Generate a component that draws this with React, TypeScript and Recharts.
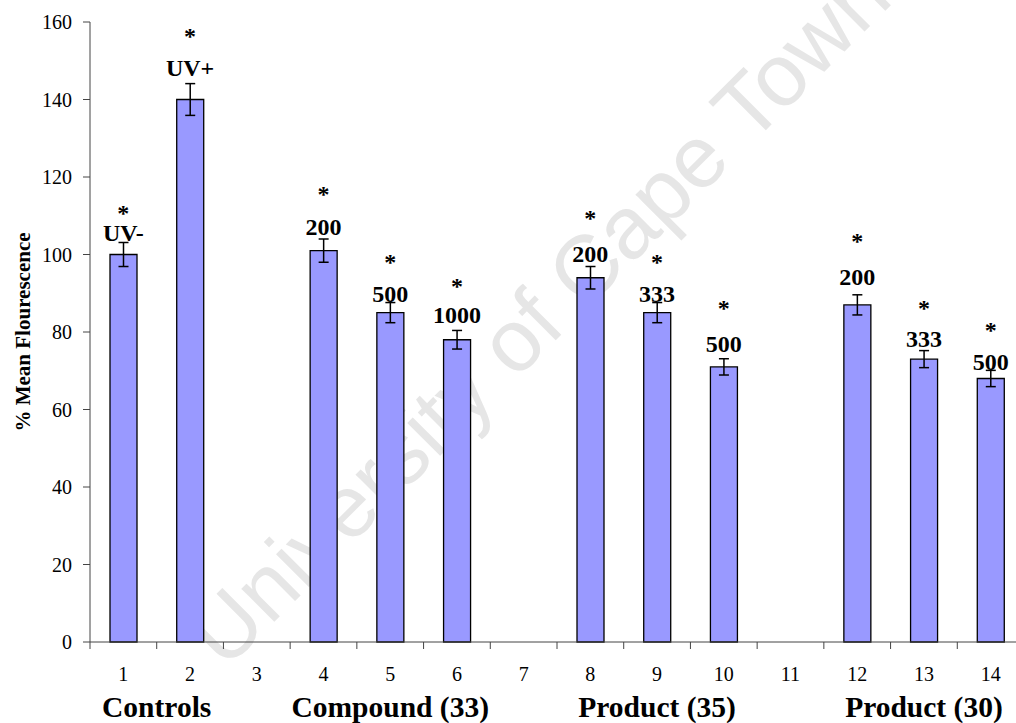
import { ComposedChart, Bar, ErrorBar, Scatter, XAxis, YAxis } from "recharts";

// sample numbers 1..14 on the x axis, mean fluorescence (% of control) per sample
const categories = ["1", "2", "3", "4", "5", "6", "7", "8", "9", "10", "11", "12", "13", "14"];
const meanFluor = [100, 140, null, 101, 85, 78, null, 94, 85, 71, null, 87, 73, 68];
const sem = [3.1, 4.1, null, 3, 2.6, 2.4, null, 2.9, 2.6, 2.1, null, 2.6, 2.2, 2.1];

// dose / control labels sitting above the bars, and the significance stars above those
const doseLabels = ["UV-", "UV+", "", "200", "500", "1000", "", "200", "333", "500", "", "200", "333", "500"];
const doseLabelAt = [103.6, 146.1, null, 105, 87.8, 82.2, null, 98.1, 87.8, 74.9, null, 92.1, 76.2, 70.2];
const starAt = [108.6, 154.3, null, 113.5, 96, 89.8, null, 107.4, 96, 84.1, null, 101.5, 84.1, 78.5];

// group captions under the axis (first and last sample of each group)
const groupNames = ["Controls", "Compound (33)", "Product (35)", "Product (30)"];
const groupFrom = [1, 4, 8, 12];
const groupTo = [2, 6, 10, 14];

const yTicks = [0, 20, 40, 60, 80, 100, 120, 140, 160];

const SERIF = "'Liberation Serif', 'Times New Roman', serif";
const TOP = 22;
const PLOT_H = 620;
const AXIS_Y = TOP + PLOT_H;
const LEFT = 90;
const PLOT_W = 934;
const BAND = PLOT_W / categories.length;

const data = categories.map((cat, i) => ({
  cat,
  mean: meanFluor[i],
  err: sem[i],
  dose: doseLabels[i],
  doseAt: doseLabelAt[i],
  starAt: starAt[i],
}));

const XTick = (props: any) => {
  const { x, payload, index } = props;
  const n = Number(payload.value);
  const g = groupFrom.indexOf(n);
  return (
    <g>
      <line x1={x - BAND / 2} y1={AXIS_Y} x2={x - BAND / 2} y2={AXIS_Y + 7} stroke="#444" />
      {index === categories.length - 1 && (
        <line x1={x + BAND / 2} y1={AXIS_Y} x2={x + BAND / 2} y2={AXIS_Y + 7} stroke="#444" />
      )}
      <text x={x} y={AXIS_Y + 39} textAnchor="middle" fontFamily={SERIF} fontSize={20} fill="#000">
        {payload.value}
      </text>
      {g >= 0 && (
        <text
          x={x + ((groupTo[g] - groupFrom[g]) * BAND) / 2}
          y={AXIS_Y + 75}
          textAnchor="middle"
          fontFamily={SERIF}
          fontSize={29.5}
          fontWeight="bold"
          fill="#000"
        >
          {groupNames[g]}
        </text>
      )}
    </g>
  );
};

const DoseShape = (props: any) => {
  const { cx, cy, payload } = props;
  if (!payload.dose || cy == null || isNaN(cy)) return <g />;
  return (
    <text x={cx} y={cy} textAnchor="middle" fontFamily={SERIF} fontSize={24} fontWeight="bold" fill="#000">
      {payload.dose}
    </text>
  );
};

const StarShape = (props: any) => {
  const { cx, cy, payload } = props;
  if (payload.starAt == null || cy == null || isNaN(cy)) return <g />;
  return (
    <text x={cx} y={cy} textAnchor="middle" fontFamily={SERIF} fontSize={24} fontWeight="bold" fill="#000">
      *
    </text>
  );
};

const YTitle = () => (
  <text
    x={23}
    y={TOP + PLOT_H / 2}
    transform={`rotate(-90, 23, ${TOP + PLOT_H / 2})`}
    textAnchor="middle"
    dominantBaseline="central"
    fontFamily={SERIF}
    fontSize={21}
    fontWeight="bold"
    fill="#000"
  >
    % Mean Flourescence
  </text>
);

export default function App() {
  return (
    <div
      style={{
        position: "absolute",
        left: 0,
        top: 0,
        width: 1016,
        height: 723,
        overflow: "hidden",
        background: "#fff",
      }}
    >
      <svg width={1016} height={723} style={{ position: "absolute", left: 0, top: 0 }}>
        <text
          x={560}
          y={336}
          transform="rotate(-45, 560, 336)"
          textAnchor="middle"
          fontFamily="'Liberation Sans', Arial, sans-serif"
          fontSize={88}
          fill="#e6e6e6"
        >
          University of Cape Town
        </text>
      </svg>
      <div style={{ position: "absolute", left: 0, top: 0 }}>
        <ComposedChart
          width={LEFT + PLOT_W + 10}
          height={723}
          data={data}
          margin={{ top: TOP, right: 10, bottom: 0, left: 0 }}
        >
          <XAxis
            dataKey="cat"
            interval={0}
            height={723 - AXIS_Y}
            tickLine={false}
            axisLine={{ stroke: "#444" }}
            tick={<XTick />}
          />
          <YAxis
            width={LEFT}
            domain={[0, 160]}
            ticks={yTicks}
            tickSize={7}
            tickMargin={11}
            tickLine={{ stroke: "#444" }}
            axisLine={{ stroke: "#444" }}
            tick={{ fill: "#000", fontSize: 20, fontFamily: SERIF }}
            label={<YTitle />}
          />
          <Bar dataKey="mean" fill="#9999ff" stroke="#000" strokeWidth={1.3} barSize={27} isAnimationActive={false}>
            <ErrorBar dataKey="err" width={5} stroke="#000" strokeWidth={1.5} />
          </Bar>
          <Scatter dataKey="doseAt" shape={<DoseShape />} isAnimationActive={false} />
          <Scatter dataKey="starAt" shape={<StarShape />} isAnimationActive={false} />
        </ComposedChart>
      </div>
    </div>
  );
}
